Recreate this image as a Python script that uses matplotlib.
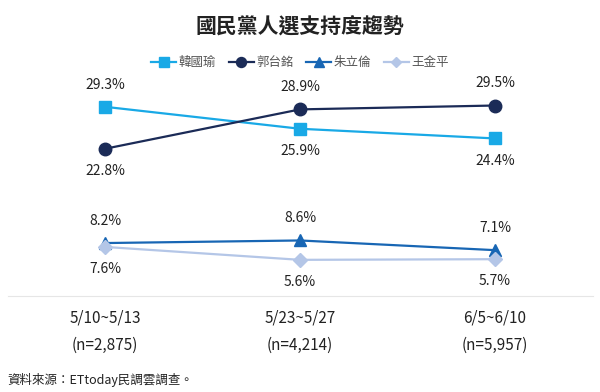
import numpy as np
import matplotlib.pyplot as plt

plt.rcParams['font.family'] = ['Noto Sans CJK TC', 'DejaVu Sans']

periods = ["5/10~5/13\n(n=2,875)", "5/23~5/27\n(n=4,214)", "6/5~6/10\n(n=5,957)"]
names = ["韓國瑜", "郭台銘", "朱立倫", "王金平"]
han = [29.3, 25.9, 24.4]
guo = [22.8, 28.9, 29.5]
zhu = [8.2, 8.6, 7.1]
wang = [7.6, 5.6, 5.7]

series = [han, guo, zhu, wang]
colors = ["#19a9e6", "#1b2b57", "#1866b4", "#b4c6e7"]
markers = ["s", "o", "^", "D"]
msizes = [9, 9, 9, 7]
# label above (1) or below (-1) the point
label_pos = [[1, -1, -1], [-1, 1, 1], [1, 1, 1], [-1, -1, -1]]

fig = plt.figure(figsize=(6, 3.92), dpi=100)
ax = fig.add_axes([0.0125, 1 - 296 / 392, 0.975, (296 - 70) / 392])
x = np.arange(len(periods))

for vals, c, m, ms, name, pos in zip(series, colors, markers, msizes, names, label_pos):
    ax.plot(x, vals, color=c, marker=m, markersize=ms, linewidth=1.6, label=name,
            markeredgecolor=c)
    for xi, v, p in zip(x, vals, pos):
        ax.annotate(f"{v}%", (xi, v), xytext=(0, 16 * p), textcoords="offset points",
                    ha="center", va="center", fontsize=10, color="#222222")

ax.set_xlim(-0.5, 2.5)
ax.set_ylim(0, 35)
ax.set_yticks([])
ax.set_xticks(x)
ax.set_xticklabels(periods, fontsize=11, color="#222222", linespacing=1.8)
ax.tick_params(axis="x", length=0, pad=10)
for s in ["top", "left", "right"]:
    ax.spines[s].set_visible(False)
ax.spines["bottom"].set_color("#e6e6e6")

fig.text(0.5, 0.93, "國民黨人選支持度趨勢", ha="center", va="center",
         fontsize=15, fontweight="bold", color="#222222")
fig.legend(loc="center", bbox_to_anchor=(0.5, 0.84), ncol=4, frameon=False,
           fontsize=9, handlelength=2.0, handletextpad=0.2, columnspacing=1.0,
           labelcolor="#555555", markerscale=0.8)
fig.text(0.012, 0.03, "資料來源：ETtoday民調雲調查。", ha="left", va="center",
         fontsize=9, color="#222222")

fig.savefig("out.png", dpi=100)
